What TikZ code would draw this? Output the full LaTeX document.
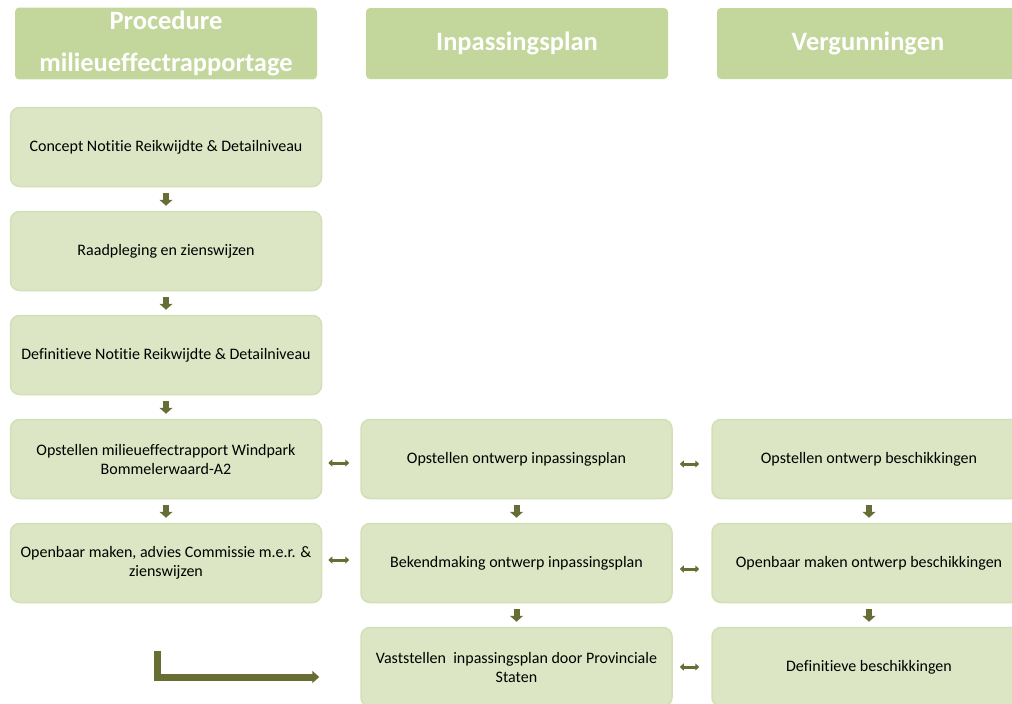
\documentclass[tikz,border=0pt]{standalone}
\usepackage{fontspec}
\setmainfont[Ligatures=NoCommon]{Carlito}
\usetikzlibrary{arrows.meta}
\definecolor{headgreen}{RGB}{195,214,155}
\definecolor{boxgreen}{RGB}{220,230,196}
\definecolor{boxedge}{RGB}{211,223,182}
\definecolor{olive}{RGB}{104,109,52}

\begin{document}
\begin{tikzpicture}[x=1pt, y=-1pt,
  head/.style={fill=headgreen, rounded corners=4pt, minimum width=302pt, minimum height=71pt,
    text=white, font=\bfseries\fontsize{26.5}{42}\selectfont, align=center},
  stepbox/.style={fill=boxgreen, draw=boxedge, line width=1.5pt, rounded corners=9pt,
    minimum width=311pt, minimum height=79pt, text width=298pt, align=flush center,
    font=\fontsize{16}{19}\selectfont},
  down/.style={draw=olive, line width=6pt, -{Triangle[width=13pt,length=6pt]},
    shorten <=6pt, shorten >=5pt},
  both/.style={draw=olive, line width=3pt, {Triangle[width=7pt,length=4pt]}-{Triangle[width=7pt,length=4pt]}},
  bigarrow/.style={draw=olive, line width=7pt, -{Triangle[width=12pt,length=7pt]}}]
  \clip (0,0) rectangle (1012,704);

  \node[head] (h1) at (166,43.5) {Procedure\\milieueffectrapportage};
  \node[head] (h2) at (517,43.5) {Inpassingsplan};
  \node[head] (h3) at (868,43.5) {Vergunningen};

  \node[stepbox] (m1) at (166,147) {Concept Notitie Reikwijdte \& Detailniveau};
  \node[stepbox] (m2) at (166,251) {Raadpleging en zienswijzen};
  \node[stepbox] (m3) at (166,355) {Definitieve Notitie Reikwijdte \& Detailniveau};
  \node[stepbox] (m4) at (166,459) {Opstellen milieueffectrapport Windpark Bommelerwaard-A2};
  \node[stepbox] (m5) at (166,563) {Openbaar maken, advies Commissie m.e.r. \& zienswijzen};

  \node[stepbox] (p1) at (516.5,459) {Opstellen ontwerp inpassingsplan};
  \node[stepbox] (p2) at (516.5,563) {Bekendmaking ontwerp inpassingsplan};
  \node[stepbox] (p3) at (516.5,667) {Vaststellen\ \ inpassingsplan door Provinciale Staten};

  \node[stepbox, minimum width=314pt] (v1) at (869,459) {Opstellen ontwerp beschikkingen};
  \node[stepbox, minimum width=314pt] (v2) at (869,563) {Openbaar maken ontwerp beschikkingen};
  \node[stepbox, minimum width=314pt] (v3) at (869,667) {Definitieve beschikkingen};

  \foreach \a/\b in {m1/m2, m2/m3, m3/m4, m4/m5, p1/p2, p2/p3, v1/v2, v2/v3}
    \draw[down] (\a.south) -- (\b.north);

  \draw[both] ([xshift=6pt,yshift=-4pt]m4.east) -- ([xshift=-11pt,yshift=-4pt]p1.west);
  \draw[both] ([xshift=6pt,yshift=3pt]m5.east) -- ([xshift=-11pt,yshift=3pt]p2.west);
  \draw[both] ([xshift=7pt,yshift=-5pt]p1.east) -- ([xshift=-12pt,yshift=-5pt]v1.west);
  \draw[both] ([xshift=7pt,yshift=-6pt]p2.east) -- ([xshift=-12pt,yshift=-6pt]v2.west);
  \draw[both] ([xshift=7pt]p3.east) -- ([xshift=-12pt]v3.west);

  \coordinate (elb) at (157,651);
  \draw[bigarrow] (elb) |- ([xshift=-41pt,yshift=-10pt]p3.west);
\end{tikzpicture}
\end{document}
